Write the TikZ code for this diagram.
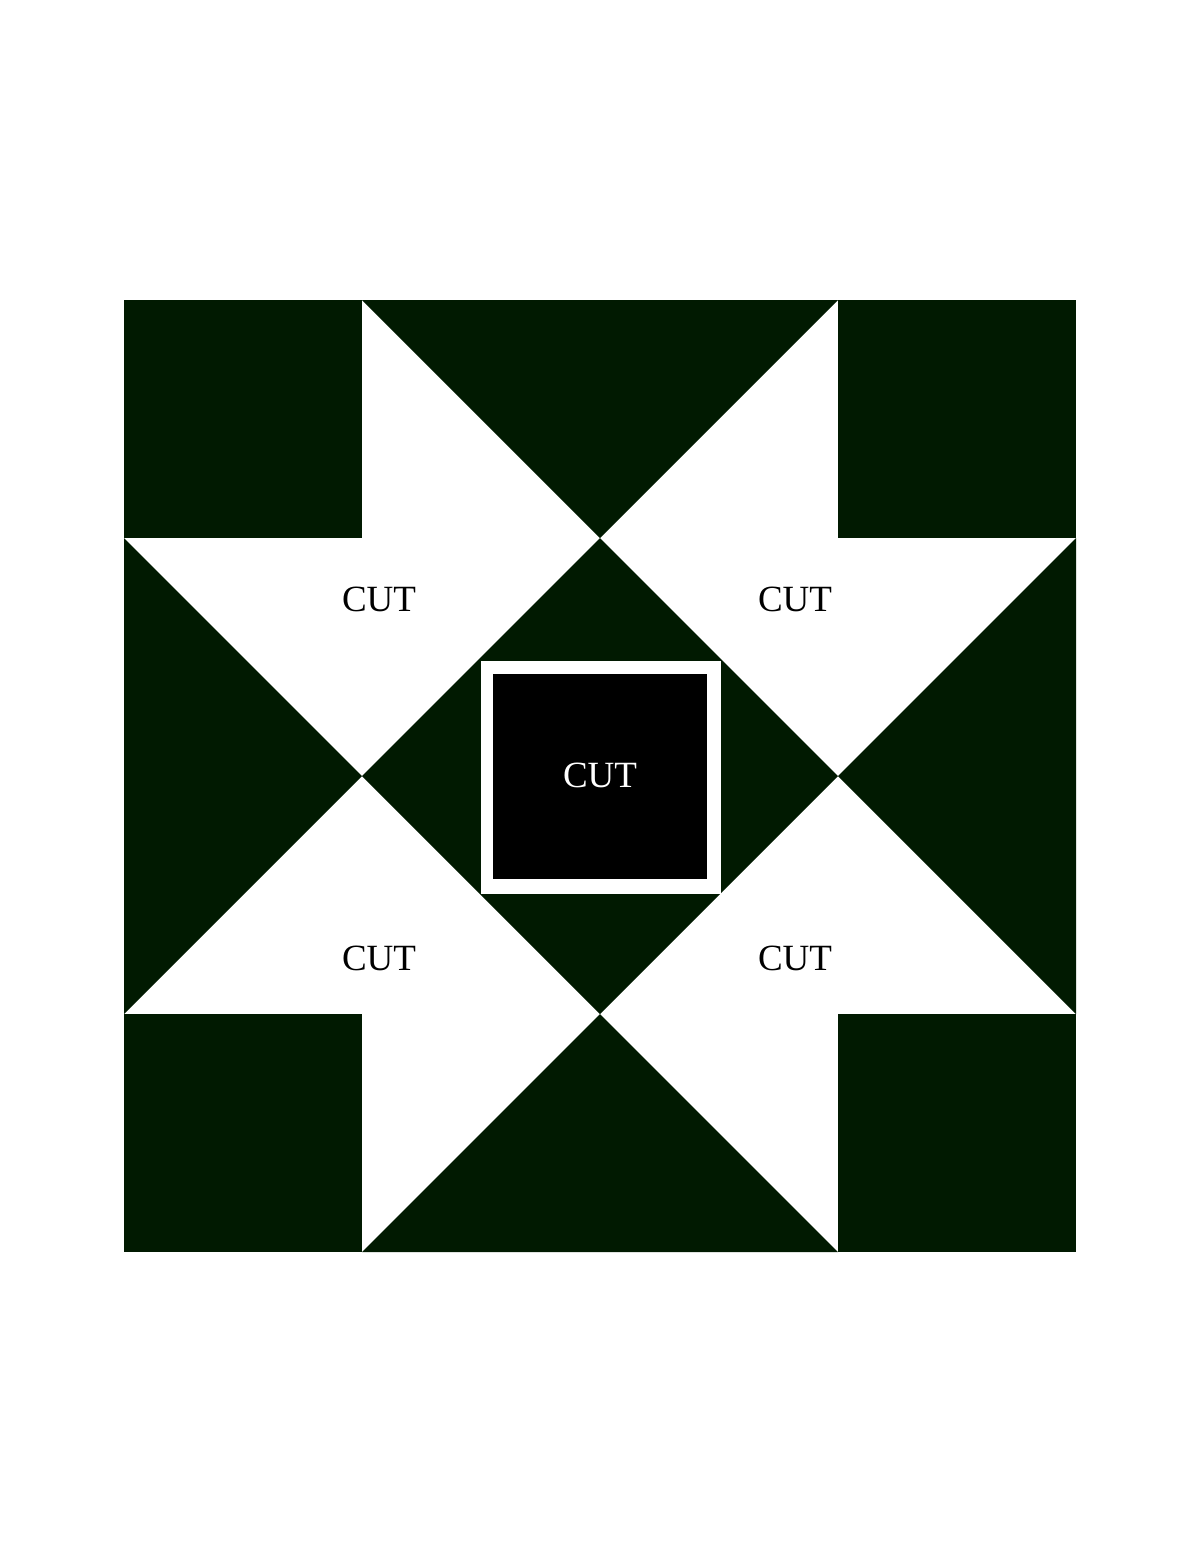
\documentclass[tikz,border=0pt]{standalone}
\usepackage{fontspec}
\setmainfont{Liberation Serif}
\definecolor{quiltgreen}{RGB}{1,26,1}
\tikzset{
  patch/.style={fill=quiltgreen, draw=none},
  cutlabel/.style={font=\fontsize{37}{40}\selectfont, inner sep=0pt, anchor=base},
}
\begin{document}
\begin{tikzpicture}[x=1pt,y=-1pt]
\useasboundingbox (0,0) rectangle (1200,1553);
\fill[white] (0,0) rectangle (1200,1553);
% corner squares
\fill[patch] (124,300) rectangle (362,538);
\fill[patch] (838,300) rectangle (1076,538);
\fill[patch] (124,1014) rectangle (362,1252);
\fill[patch] (838,1014) rectangle (1076,1252);
% side triangles
\fill[patch] (362,300) -- (838,300) -- (600,538) -- cycle;
\fill[patch] (362,1252) -- (838,1252) -- (600,1014) -- cycle;
\fill[patch] (124,538) -- (362,776) -- (124,1014) -- cycle;
\fill[patch] (1076,538) -- (838,776) -- (1076,1014) -- cycle;
% centre diamond
\fill[patch] (600,538) -- (838,776) -- (600,1014) -- (362,776) -- cycle;
% centre square
\fill[white] (481,661) rectangle (721,894);
\fill[black] (493,674) rectangle (707,879);
% labels
\node[cutlabel] (tl) at (379,611) {CUT};
\node[cutlabel] (tr) at (795,611) {CUT};
\node[cutlabel] (bl) at (379,970) {CUT};
\node[cutlabel] (br) at (795,970) {CUT};
\node[cutlabel, text=white] (c) at (600,787) {CUT};
\end{tikzpicture}
\end{document}
